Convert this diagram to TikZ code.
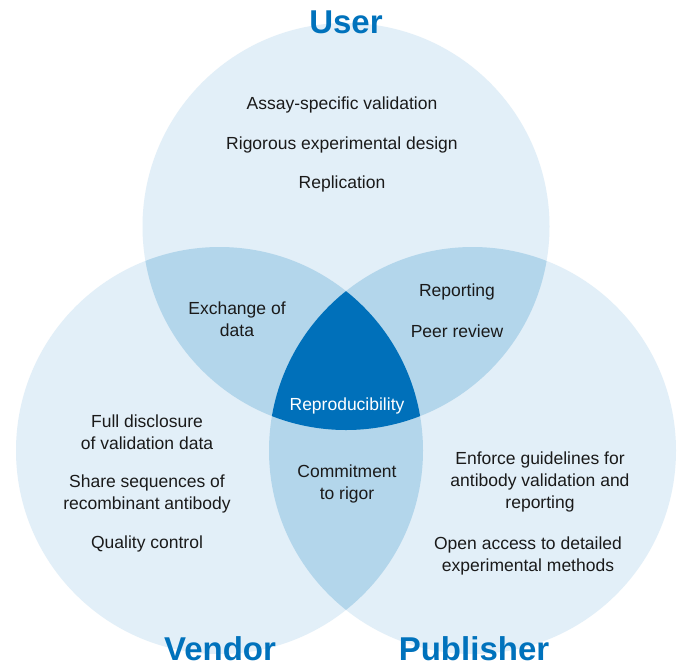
\documentclass[tikz,border=0pt]{standalone}
\usepackage{fontspec}
\setmainfont{Liberation Sans}
\definecolor{lightblue}{HTML}{E2EFF8}
\definecolor{midblue}{HTML}{B3D6EB}
\definecolor{darkblue}{HTML}{0070BA}
\definecolor{titleblue}{HTML}{0072BC}
\definecolor{bodytext}{HTML}{1A1A1A}
\begin{document}
\begin{tikzpicture}[x=1pt,y=-1pt,
  body/.style={font=\fontsize{17.5}{22}\selectfont, align=center, text=bodytext, inner sep=0pt},
  ttl/.style={font=\fontsize{33}{36}\selectfont\bfseries, text=titleblue, inner sep=0pt, anchor=base}]
\useasboundingbox (0,0) rectangle (679,667);
\fill[white] (0,0) rectangle (679,667);
\coordinate (U) at (346,226.5);
\coordinate (V) at (219.5,450.5);
\coordinate (P) at (472.5,450.5);
\def\R{203.5pt}
% single circles
\fill[lightblue] (U) circle[radius=\R];
\fill[lightblue] (V) circle[radius=\R];
\fill[lightblue] (P) circle[radius=\R];
% pairwise overlaps
\begin{scope}
  \clip (V) circle[radius=\R];
  \fill[midblue] (P) circle[radius=\R];
\end{scope}
\begin{scope}
  \clip (U) circle[radius=\R];
  \fill[midblue] (V) circle[radius=\R];
  \fill[midblue] (P) circle[radius=\R];
\end{scope}
% triple overlap
\begin{scope}
  \clip (U) circle[radius=\R];
  \clip (V) circle[radius=\R];
  \fill[darkblue] (P) circle[radius=\R];
\end{scope}
% titles
\node[ttl] (tuser) at (346,33) {User};
\node[ttl] (tvendor) at (220,660) {Vendor};
\node[ttl] (tpub) at (474,660) {Publisher};
% user texts
\node[body] (u1) at (342,105) {Assay-specific validation};
\node[body] (u2) at (342,145) {Rigorous experimental design};
\node[body] (u3) at (342,184) {Replication};
% overlaps
\node[body] (uv) at (237,319) {Exchange of\\data};
\node[body] (up1) at (457,292) {Reporting};
\node[body] (up2) at (457,331) {Peer review};
\node[body, text=white] (uvp) at (347,406) {Reproducibility};
\node[body] (vp) at (347,484) {Commitment\\to rigor};
% vendor texts
\node[body] (v1) at (147,432) {Full disclosure\\of validation data};
\node[body] (v2) at (147,494) {Share sequences of\\recombinant antibody};
\node[body] (v3) at (147,544) {Quality control};
% publisher texts
\node[body] (p1) at (540,482) {Enforce guidelines for\\antibody validation and\\reporting};
\node[body] (p2) at (528,556) {Open access to detailed\\experimental methods};
\end{tikzpicture}
\end{document}
